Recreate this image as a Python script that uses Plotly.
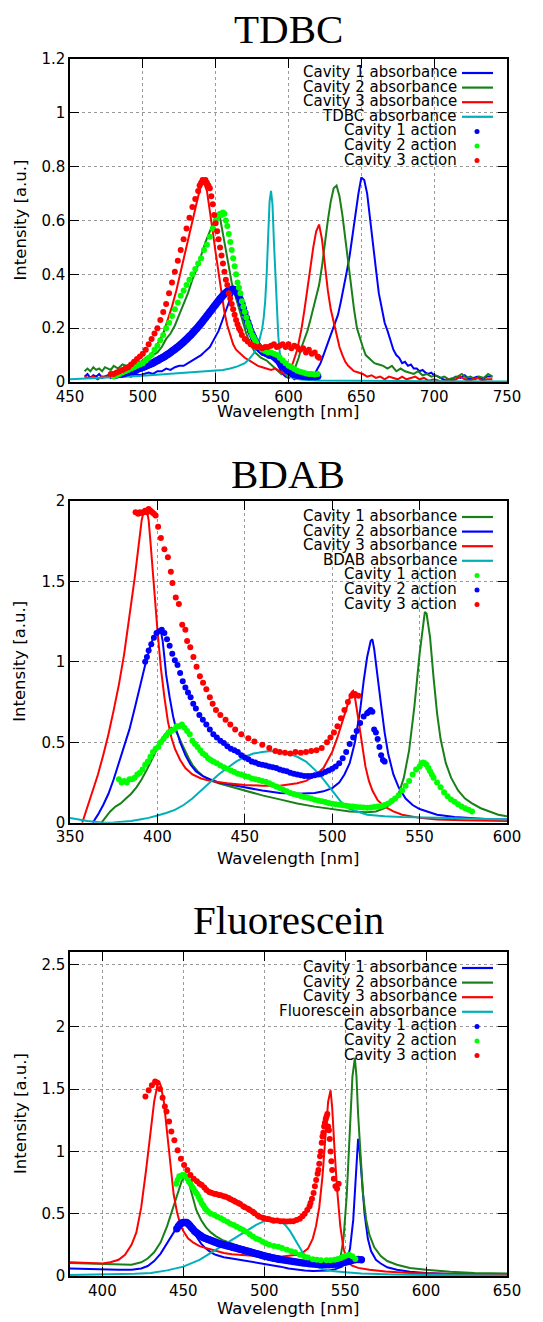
import plotly.graph_objects as go

W, H = 543, 1322

# ---------------- colours ----------------
BLUE = "#0000ff"
DGREEN = "#198019"
RED = "#ff0000"
CYAN = "#00b0b8"
LIME = "#00ff00"

# ================= TDBC =================
tdbc_cav1_abs = [(460,0.02),(462,0.03),(464,0.015),(466,0.025),(468,0.02),(470,0.03),(472,0.015),(474,0.02),(476,0.025),(478,0.015),(480,0.02),(483,0.03),(486,0.02),(489,0.025),(492,0.02),(495,0.03),(498,0.025),(501,0.03),(504,0.035),(507,0.03),(510,0.04),(513,0.04),(516,0.05),(519,0.045),(522,0.055),(525,0.06),(528,0.06),(531,0.07),(534,0.08),(537,0.09),(540,0.1),(542,0.11),(544,0.12),(546,0.13),(548,0.15),(550,0.17),(552,0.19),(554,0.22),(556,0.25),(558,0.28),(560,0.31),(562,0.33),(564,0.33),(566,0.3),(568,0.27),(570,0.24),(572,0.2),(574,0.17),(576,0.14),(578,0.12),(580,0.11),(582,0.1),(584,0.1),(586,0.09),(588,0.09),(590,0.08),(592,0.07),(594,0.05),(596,0.03),(598,0.02),(600,0.015),(602,0.02),(604,0.01),(606,0.015),(608,0.02),(610,0.02),(612,0.015),(614,0.02),(616,0.025),(618,0.03),(620,0.05),(622,0.07),(624,0.1),(626,0.13),(628,0.16),(630,0.19),(632,0.22),(634,0.25),(636,0.3),(638,0.35),(640,0.41),(642,0.47),(644,0.55),(646,0.63),(648,0.7),(650,0.76),(652,0.75),(654,0.7),(656,0.6),(658,0.5),(660,0.42),(662,0.33),(664,0.27),(666,0.22),(668,0.19),(670,0.15),(672,0.12),(674,0.1),(676,0.09),(678,0.07),(680,0.075),(682,0.06),(684,0.065),(686,0.05),(688,0.05),(690,0.04),(692,0.045),(694,0.035),(696,0.03),(698,0.035),(700,0.025),(703,0.02),(706,0.01),(709,0.005),(712,0.01),(715,0.02),(718,0.015),(721,0.025),(724,0.01),(727,0.015),(730,0.02),(733,0.01),(736,0.02),(740,0.02)]

tdbc_cav2_abs = [(460,0.04),(462,0.05),(464,0.04),(466,0.055),(468,0.045),(470,0.05),(472,0.04),(474,0.055),(476,0.05),(478,0.045),(480,0.06),(483,0.05),(486,0.065),(489,0.06),(492,0.07),(495,0.065),(498,0.075),(501,0.08),(504,0.09),(507,0.1),(510,0.11),(513,0.13),(516,0.16),(519,0.18),(522,0.21),(525,0.25),(528,0.29),(531,0.33),(534,0.38),(537,0.42),(540,0.47),(543,0.52),(546,0.56),(549,0.6),(551,0.62),(553,0.61),(555,0.55),(557,0.48),(559,0.42),(561,0.37),(563,0.33),(565,0.29),(567,0.25),(569,0.21),(571,0.18),(573,0.15),(575,0.13),(577,0.11),(579,0.1),(581,0.09),(583,0.085),(585,0.08),(587,0.07),(589,0.06),(591,0.05),(593,0.04),(595,0.03),(597,0.045),(599,0.02),(601,0.03),(603,0.04),(605,0.06),(607,0.09),(609,0.13),(611,0.16),(613,0.19),(615,0.23),(617,0.27),(619,0.31),(621,0.36),(623,0.43),(625,0.52),(627,0.6),(629,0.67),(631,0.72),(633,0.73),(635,0.69),(637,0.62),(639,0.53),(641,0.44),(643,0.35),(645,0.27),(647,0.2),(649,0.16),(651,0.13),(653,0.1),(655,0.09),(657,0.08),(659,0.07),(662,0.065),(665,0.06),(668,0.05),(671,0.06),(674,0.04),(677,0.05),(680,0.04),(683,0.035),(686,0.03),(689,0.04),(692,0.025),(695,0.03),(698,0.02),(701,0.025),(704,0.015),(707,0.02),(710,0.01),(713,0.015),(716,0.02),(719,0.03),(722,0.015),(725,0.02),(728,0.01),(731,0.02),(734,0.015),(737,0.03),(740,0.02)]

tdbc_cav3_abs = [(460,0.02),(463,0.015),(466,0.02),(469,0.01),(472,0.02),(475,0.02),(478,0.025),(481,0.03),(484,0.035),(487,0.04),(490,0.05),(493,0.055),(496,0.065),(499,0.075),(502,0.09),(505,0.1),(508,0.12),(511,0.15),(514,0.18),(517,0.23),(520,0.28),(523,0.34),(526,0.41),(529,0.48),(532,0.56),(535,0.63),(538,0.69),(540,0.73),(542,0.74),(544,0.71),(546,0.64),(548,0.56),(550,0.48),(552,0.4),(554,0.33),(556,0.26),(558,0.21),(560,0.17),(562,0.14),(564,0.12),(566,0.11),(568,0.1),(570,0.09),(573,0.08),(576,0.07),(579,0.06),(582,0.055),(585,0.05),(588,0.045),(591,0.05),(594,0.04),(597,0.03),(600,0.04),(603,0.07),(606,0.12),(609,0.2),(611,0.27),(613,0.35),(615,0.43),(617,0.5),(619,0.56),(621,0.585),(623,0.53),(625,0.43),(627,0.34),(629,0.27),(631,0.22),(633,0.17),(635,0.13),(637,0.1),(639,0.075),(641,0.06),(643,0.05),(645,0.04),(648,0.035),(651,0.03),(654,0.02),(657,0.025),(660,0.015),(663,0.02),(666,0.01),(669,0.02),(672,0.015),(675,0.01),(678,0.02),(681,0.01),(684,0.015),(687,0.02),(690,0.01),(693,0.015),(696,0.005),(700,0.01),(703,0.005),(706,0.0),(709,0.01),(712,0.005),(715,0.01),(718,0.02),(721,0.01),(724,0.005),(727,0.01),(730,0.015),(733,0.005),(736,0.01),(740,0.01)]

tdbc_dye_abs = [(450,0.01),(460,0.012),(470,0.015),(480,0.017),(490,0.02),(500,0.023),(510,0.027),(520,0.03),(530,0.034),(540,0.038),(550,0.042),(555,0.045),(560,0.05),(565,0.058),(570,0.07),(573,0.085),(576,0.105),(578,0.125),(580,0.155),(582,0.2),(583,0.24),(584,0.3),(585,0.4),(586,0.55),(587,0.67),(588,0.71),(589,0.66),(590,0.52),(591,0.38),(592,0.26),(593,0.17),(594,0.11),(596,0.06),(598,0.035),(600,0.022),(605,0.012),(610,0.008),(620,0.006),(650,0.004),(700,0.003),(750,0.002)]

tdbc_cav1_act = [(480,0.025),(481,0.026),(482,0.027),(483,0.028),(484,0.029),(485,0.03),(486,0.031),(487,0.032),(488,0.034),(489,0.035),(490,0.037),(491,0.038),(492,0.04),(493,0.041),(494,0.043),(495,0.045),(496,0.047),(497,0.049),(498,0.051),(499,0.053),(500,0.055),(501,0.057),(502,0.059),(503,0.061),(504,0.064),(505,0.066),(506,0.069),(507,0.071),(508,0.074),(509,0.077),(510,0.08),(511,0.083),(512,0.086),(513,0.089),(514,0.092),(515,0.095),(516,0.099),(517,0.102),(518,0.106),(519,0.11),(520,0.114),(521,0.118),(522,0.122),(523,0.126),(524,0.13),(525,0.135),(526,0.139),(527,0.144),(528,0.149),(529,0.154),(530,0.159),(531,0.164),(532,0.17),(533,0.175),(534,0.181),(535,0.187),(536,0.193),(537,0.199),(538,0.205),(539,0.212),(540,0.218),(541,0.225),(542,0.232),(543,0.239),(544,0.246),(545,0.253),(546,0.26),(547,0.267),(548,0.274),(549,0.281),(550,0.288),(551,0.295),(552,0.302),(553,0.309),(554,0.315),(555,0.321),(556,0.327),(557,0.332),(558,0.336),(559,0.34),(560,0.342),(561,0.344),(562,0.345),(563,0.343),(564,0.338),(565,0.33),(566,0.318),(567,0.305),(568,0.29),(569,0.273),(570,0.256),(571,0.238),(572,0.222),(573,0.206),(574,0.19),(575,0.177),(576,0.165),(577,0.153),(578,0.143),(579,0.134),(580,0.127),(581,0.121),(582,0.116),(583,0.112),(584,0.109),(585,0.106),(586,0.104),(587,0.102),(588,0.1),(589,0.098),(590,0.095),(591,0.092),(592,0.088),(593,0.083),(594,0.077),(595,0.07),(596,0.063),(597,0.056),(598,0.05),(599,0.045),(600,0.041),(601,0.037),(602,0.034),(603,0.031),(604,0.029),(605,0.027),(606,0.026),(607,0.025),(608,0.024),(609,0.023),(610,0.022),(612,0.021),(614,0.02),(616,0.02),(618,0.02),(620,0.021)]

tdbc_cav2_act = [(480,0.02),(482,0.025),(484,0.03),(486,0.035),(488,0.04),(490,0.045),(492,0.05),(494,0.055),(496,0.06),(498,0.065),(500,0.07),(502,0.08),(504,0.09),(506,0.1),(508,0.12),(510,0.135),(512,0.155),(514,0.175),(516,0.2),(518,0.22),(520,0.245),(522,0.27),(524,0.295),(526,0.32),(528,0.34),(530,0.36),(532,0.38),(534,0.4),(536,0.42),(538,0.44),(540,0.46),(542,0.49),(544,0.51),(546,0.54),(548,0.57),(550,0.6),(551,0.61),(552,0.62),(553,0.625),(554,0.62),(555,0.63),(556,0.625),(557,0.6),(558,0.58),(559,0.55),(560,0.52),(561,0.49),(562,0.46),(563,0.43),(564,0.4),(565,0.37),(566,0.35),(567,0.33),(568,0.3),(569,0.28),(570,0.26),(571,0.24),(572,0.22),(573,0.205),(574,0.19),(575,0.175),(576,0.165),(577,0.155),(578,0.145),(580,0.13),(582,0.12),(584,0.115),(586,0.11),(588,0.11),(590,0.105),(592,0.1),(594,0.09),(596,0.08),(598,0.07),(600,0.06),(602,0.055),(604,0.048),(606,0.042),(608,0.038),(610,0.035),(612,0.032),(614,0.03),(616,0.03),(618,0.028),(620,0.03)]

tdbc_cav3_act = [(478,0.03),(480,0.03),(482,0.035),(484,0.04),(486,0.045),(488,0.05),(490,0.055),(492,0.065),(494,0.075),(496,0.085),(498,0.095),(500,0.105),(502,0.12),(504,0.14),(506,0.16),(508,0.18),(510,0.2),(512,0.23),(514,0.26),(516,0.29),(518,0.33),(520,0.37),(522,0.41),(524,0.45),(526,0.49),(528,0.53),(530,0.57),(532,0.61),(534,0.65),(536,0.68),(538,0.71),(539,0.73),(540,0.74),(541,0.75),(542,0.745),(543,0.75),(544,0.74),(545,0.73),(546,0.72),(547,0.69),(548,0.66),(549,0.62),(550,0.59),(551,0.56),(552,0.53),(553,0.5),(554,0.47),(555,0.44),(556,0.41),(557,0.38),(558,0.36),(559,0.33),(560,0.31),(561,0.29),(562,0.27),(563,0.25),(564,0.23),(565,0.215),(566,0.2),(567,0.19),(568,0.175),(570,0.16),(572,0.15),(574,0.14),(576,0.135),(578,0.13),(580,0.13),(582,0.125),(584,0.13),(586,0.13),(588,0.135),(590,0.14),(592,0.13),(594,0.135),(596,0.14),(598,0.13),(600,0.14),(602,0.125),(604,0.135),(606,0.13),(608,0.12),(610,0.125),(612,0.11),(614,0.12),(616,0.105),(618,0.11),(620,0.095),(621,0.09)]

# ================= BDAB =================
bdab_cav1_abs = [(368,0.0),(370,0.03),(373,0.07),(376,0.1),(379,0.12),(382,0.15),(385,0.18),(388,0.22),(391,0.27),(394,0.33),(397,0.4),(400,0.47),(403,0.53),(406,0.57),(408,0.59),(410,0.58),(412,0.54),(414,0.49),(416,0.44),(418,0.4),(420,0.36),(423,0.32),(426,0.29),(430,0.265),(435,0.245),(440,0.23),(445,0.215),(450,0.2),(460,0.17),(470,0.145),(480,0.12),(490,0.1),(500,0.085),(510,0.07),(520,0.065),(525,0.07),(530,0.09),(535,0.13),(538,0.18),(541,0.28),(544,0.45),(547,0.72),(550,1.05),(552,1.25),(553,1.31),(554,1.3),(556,1.15),(558,0.9),(560,0.68),(562,0.52),(565,0.37),(568,0.28),(572,0.2),(576,0.15),(580,0.12),(585,0.09),(590,0.07),(595,0.05),(600,0.04)]

bdab_cav2_abs = [(363,0.0),(366,0.05),(369,0.11),(372,0.18),(375,0.27),(378,0.37),(381,0.47),(384,0.58),(387,0.71),(390,0.85),(393,0.98),(396,1.1),(398,1.16),(400,1.19),(401,1.2),(402,1.19),(403,1.13),(404,1.03),(405,0.92),(407,0.78),(409,0.66),(411,0.57),(413,0.5),(416,0.42),(419,0.36),(422,0.32),(426,0.29),(430,0.27),(435,0.25),(440,0.24),(450,0.22),(460,0.2),(470,0.185),(480,0.18),(490,0.185),(495,0.195),(500,0.215),(504,0.25),(507,0.3),(510,0.37),(513,0.5),(516,0.7),(518,0.88),(520,1.03),(522,1.13),(523,1.14),(524,1.08),(526,0.92),(528,0.73),(530,0.56),(532,0.43),(535,0.3),(538,0.22),(542,0.15),(546,0.11),(550,0.085),(555,0.065),(560,0.05),(570,0.035),(580,0.028),(590,0.022),(600,0.02)]

bdab_cav3_abs = [(357,0.0),(360,0.1),(363,0.2),(366,0.3),(369,0.42),(372,0.55),(375,0.7),(378,0.86),(381,1.05),(384,1.28),(387,1.52),(389,1.7),(391,1.88),(392,1.93),(393,1.95),(394,1.94),(395,1.88),(396,1.75),(397,1.6),(398,1.45),(399,1.32),(400,1.2),(401,1.08),(402,0.96),(404,0.78),(406,0.63),(408,0.53),(410,0.46),(413,0.39),(416,0.34),(420,0.3),(425,0.275),(430,0.26),(440,0.245),(450,0.235),(460,0.23),(470,0.23),(480,0.245),(485,0.26),(490,0.29),(495,0.34),(500,0.44),(503,0.53),(506,0.64),(509,0.75),(511,0.81),(512,0.82),(513,0.78),(515,0.64),(517,0.48),(519,0.35),(521,0.26),(523,0.2),(526,0.14),(530,0.1),(535,0.07),(540,0.05),(550,0.03),(560,0.02),(575,0.015),(600,0.01)]

bdab_dye_abs = [(350,0.03),(355,0.02),(360,0.01),(365,0.005),(370,0.0),(375,0.002),(380,0.005),(385,0.01),(390,0.02),(395,0.03),(400,0.045),(405,0.06),(410,0.08),(415,0.11),(420,0.15),(425,0.2),(430,0.25),(435,0.3),(440,0.34),(445,0.38),(450,0.41),(455,0.43),(460,0.44),(465,0.445),(470,0.44),(475,0.43),(480,0.41),(485,0.38),(490,0.33),(495,0.27),(500,0.2),(505,0.13),(510,0.085),(515,0.065),(520,0.05),(530,0.04),(540,0.035),(560,0.03),(580,0.025),(600,0.02)]

bdab_cav1_act = [(378,0.27),(379.5,0.25),(381,0.26),(382.5,0.25),(384,0.27),(385.5,0.27),(387,0.28),(388.5,0.3),(390,0.31),(391.5,0.33),(393,0.36),(394.5,0.38),(396,0.41),(397.5,0.44),(399,0.46),(400.5,0.47),(402,0.5),(403.5,0.52),(405,0.54),(406.5,0.56),(408,0.57),(409.5,0.58),(411,0.6),(412.5,0.6),(414,0.61),(415.5,0.59),(417,0.57),(418.5,0.55),(420,0.51),(421.5,0.49),(423,0.47),(424.5,0.45),(426,0.43),(427.5,0.42),(429,0.4),(430.5,0.39),(432,0.38),(434,0.37),(436,0.355),(438,0.345),(440,0.335),(442,0.325),(444,0.315),(446,0.305),(448,0.3),(450,0.29),(452,0.285),(454,0.275),(456,0.27),(458,0.265),(460,0.26),(462,0.255),(464,0.245),(466,0.235),(468,0.225),(470,0.215),(472,0.205),(474,0.195),(476,0.185),(478,0.178),(480,0.172),(482,0.166),(484,0.16),(486,0.155),(488,0.15),(490,0.143),(492,0.138),(494,0.133),(496,0.128),(498,0.123),(500,0.118),(502,0.115),(504,0.112),(506,0.109),(508,0.106),(510,0.103),(512,0.1),(514,0.098),(516,0.096),(518,0.094),(520,0.093),(522,0.095),(524,0.098),(526,0.1),(528,0.104),(530,0.11),(532,0.12),(534,0.135),(536,0.15),(538,0.17),(540,0.2),(542,0.23),(544,0.26),(546,0.3),(548,0.33),(550,0.35),(551,0.37),(552,0.375),(553,0.37),(554,0.36),(555,0.34),(556,0.32),(557,0.3),(558,0.28),(560,0.25),(562,0.22),(564,0.19),(566,0.165),(568,0.145),(570,0.13),(572,0.115),(574,0.1),(576,0.09),(578,0.08),(580,0.07)]

bdab_cav2_act = [(393,1.0),(394,1.03),(395,1.07),(396.5,1.11),(398,1.15),(399.5,1.18),(401,1.19),(402.5,1.2),(404,1.18),(405.5,1.14),(407,1.1),(408.5,1.05),(410,1.01),(411.5,0.98),(413,0.93),(414.5,0.88),(416,0.84),(417.5,0.81),(419,0.78),(420.5,0.74),(422,0.71),(424,0.67),(426,0.64),(428,0.61),(430,0.58),(432,0.55),(434,0.53),(436,0.51),(438,0.495),(440,0.475),(442,0.46),(444,0.45),(446,0.44),(448,0.42),(450,0.405),(452,0.395),(454,0.38),(456,0.375),(458,0.365),(460,0.36),(462,0.355),(464,0.35),(466,0.345),(468,0.34),(470,0.33),(472,0.325),(474,0.32),(476,0.31),(478,0.305),(480,0.3),(482,0.295),(484,0.29),(486,0.29),(488,0.29),(490,0.295),(492,0.3),(494,0.305),(496,0.315),(498,0.325),(500,0.335),(502,0.35),(504,0.37),(506,0.4),(508,0.44),(510,0.49),(512,0.53),(514,0.57),(516,0.62),(518,0.66),(520,0.68),(521,0.69),(522,0.7),(523,0.69),(524,0.58),(525,0.56),(526,0.52),(527,0.47),(528,0.42),(529,0.39),(530,0.38)]

bdab_cav3_act = [(387.5,1.93),(389,1.92),(390,1.93),(391,1.925),(392,1.93),(393,1.94),(394,1.93),(395,1.95),(396,1.94),(397,1.93),(398,1.92),(399,1.91),(400.4,1.84),(402,1.77),(404,1.7),(406,1.65),(407.7,1.56),(408.6,1.49),(410.5,1.4),(412.3,1.36),(414.2,1.23),(416,1.2),(417,1.13),(418.8,1.09),(420.6,1.03),(422.4,0.97),(424.3,0.91),(426.1,0.87),(428,0.83),(430,0.78),(431.6,0.74),(433.5,0.7),(436,0.67),(439,0.64),(441.7,0.61),(444.5,0.58),(448,0.55),(452,0.525),(455.5,0.505),(460,0.485),(464,0.465),(467.5,0.445),(470,0.44),(473,0.435),(476,0.43),(479,0.44),(482,0.435),(485,0.44),(488,0.445),(491,0.45),(494,0.465),(497,0.5),(499,0.53),(501,0.56),(503,0.6),(505,0.65),(507,0.7),(509,0.75),(511,0.79),(513,0.8),(515,0.79)]

# ================= Fluorescein =================
fl_cav1_abs = [(380,0.06),(390,0.055),(400,0.05),(410,0.05),(418,0.05),(424,0.06),(428,0.08),(432,0.12),(436,0.18),(440,0.26),(443,0.33),(446,0.39),(449,0.42),(451,0.425),(453,0.41),(455,0.38),(458,0.32),(461,0.26),(464,0.22),(467,0.19),(470,0.17),(475,0.15),(480,0.14),(485,0.13),(490,0.12),(495,0.11),(500,0.1),(505,0.09),(510,0.075),(515,0.06),(520,0.05),(525,0.045),(530,0.04),(535,0.04),(540,0.045),(544,0.055),(548,0.075),(551,0.12),(553,0.22),(555,0.45),(556.5,0.8),(558,1.1),(559,1.0),(560.5,0.75),(562,0.5),(564,0.3),(566,0.2),(569,0.13),(572,0.1),(576,0.07),(582,0.05),(590,0.035),(600,0.025),(620,0.015),(650,0.01)]

fl_cav2_abs = [(380,0.105),(390,0.1),(400,0.095),(410,0.09),(418,0.09),(424,0.11),(428,0.14),(432,0.19),(436,0.27),(440,0.4),(443,0.52),(446,0.65),(449,0.76),(451,0.8),(452,0.79),(454,0.72),(456,0.62),(458,0.53),(461,0.45),(464,0.39),(467,0.35),(470,0.32),(474,0.29),(478,0.27),(482,0.25),(486,0.23),(490,0.21),(494,0.19),(498,0.17),(502,0.155),(506,0.14),(510,0.125),(515,0.11),(520,0.1),(525,0.09),(530,0.085),(535,0.085),(540,0.09),(544,0.1),(547,0.14),(549,0.3),(551,0.65),(553,1.2),(554.5,1.6),(556,1.75),(557,1.6),(558,1.3),(559.5,0.95),(561,0.66),(563,0.45),(565,0.33),(568,0.23),(572,0.16),(576,0.12),(582,0.09),(590,0.065),(600,0.05),(615,0.035),(630,0.025),(650,0.02)]

fl_cav3_abs = [(380,0.11),(390,0.105),(400,0.1),(405,0.11),(410,0.13),(414,0.17),(418,0.25),(421,0.35),(424,0.55),(427,0.85),(430,1.2),(432,1.4),(434,1.53),(435,1.56),(436,1.53),(438,1.4),(440,1.15),(442,0.88),(444,0.66),(446,0.52),(448,0.42),(450,0.36),(453,0.3),(456,0.27),(460,0.24),(465,0.22),(470,0.2),(475,0.185),(480,0.175),(490,0.165),(500,0.155),(510,0.155),(515,0.16),(520,0.17),(524,0.19),(527,0.22),(530,0.3),(532,0.4),(534,0.55),(536,0.8),(538,1.15),(539.5,1.4),(541,1.49),(542,1.35),(543.5,1.0),(545,0.7),(547,0.4),(549,0.22),(551,0.13),(554,0.085),(558,0.065),(565,0.05),(575,0.037),(590,0.025),(610,0.018),(630,0.012),(650,0.01)]

fl_dye_abs = [(380,0.008),(400,0.01),(420,0.018),(430,0.025),(440,0.045),(450,0.075),(455,0.1),(460,0.13),(465,0.17),(470,0.21),(475,0.25),(480,0.29),(485,0.33),(490,0.37),(495,0.41),(500,0.44),(505,0.45),(510,0.44),(513,0.41),(516,0.36),(519,0.29),(522,0.22),(525,0.16),(528,0.11),(532,0.075),(536,0.055),(542,0.04),(550,0.03),(560,0.02),(580,0.012),(600,0.008),(650,0.005)]

fl_cav1_act = [(446,0.38),(447,0.4),(448,0.415),(449,0.425),(450,0.43),(451,0.43),(452,0.43),(453,0.42),(454,0.405),(455,0.39),(456,0.375),(457,0.36),(458,0.35),(459,0.34),(460,0.33),(461,0.32),(462,0.31),(463,0.305),(464,0.3),(465,0.295),(466,0.29),(467,0.285),(468,0.28),(469,0.275),(470,0.27),(471,0.265),(472,0.26),(473,0.257),(474,0.253),(475,0.25),(476,0.246),(477,0.243),(478,0.24),(479,0.236),(480,0.232),(481,0.229),(482,0.226),(483,0.222),(484,0.219),(485,0.215),(486,0.212),(487,0.208),(488,0.205),(489,0.201),(490,0.198),(491,0.194),(492,0.19),(493,0.187),(494,0.183),(495,0.179),(496,0.176),(497,0.172),(498,0.168),(499,0.165),(500,0.161),(501,0.158),(502,0.155),(503,0.152),(504,0.149),(505,0.146),(506,0.143),(507,0.14),(508,0.138),(509,0.135),(510,0.133),(512,0.128),(514,0.124),(516,0.12),(518,0.116),(520,0.112),(522,0.108),(524,0.105),(526,0.102),(528,0.099),(530,0.096),(532,0.094),(534,0.092),(536,0.091),(538,0.09),(540,0.09),(542,0.092),(544,0.095),(546,0.099),(548,0.104),(550,0.11),(552,0.117),(554,0.124),(556,0.13),(558,0.133),(560,0.13)]

fl_cav2_act = [(445.6,0.74),(446.5,0.77),(447.5,0.8),(448.5,0.8),(449.5,0.81),(450.5,0.81),(451.5,0.8),(452.5,0.78),(453.5,0.757),(454.5,0.74),(455.4,0.717),(456.4,0.7),(457.4,0.676),(458.4,0.66),(459.4,0.636),(460.4,0.61),(461.4,0.583),(462.4,0.565),(463.4,0.543),(464.3,0.53),(465.3,0.516),(467,0.5),(469.3,0.49),(471,0.475),(473.2,0.463),(475,0.45),(477.2,0.436),(479,0.42),(481.2,0.41),(483,0.395),(485.1,0.382),(487,0.37),(489,0.356),(491,0.335),(493,0.316),(495,0.3),(497,0.29),(499,0.275),(501,0.262),(503,0.25),(506,0.24),(508.7,0.235),(511,0.225),(514,0.21),(516.6,0.198),(519,0.19),(522,0.17),(524.6,0.158),(527,0.148),(530,0.135),(532.5,0.13),(535,0.127),(538.5,0.126),(541,0.127),(543.5,0.13),(545.5,0.137),(547.4,0.144),(549,0.155),(550.4,0.163),(552.4,0.17),(554.4,0.158),(556.3,0.136)]

fl_cav3_act = [(426.6,1.44),(428.6,1.49),(430.6,1.53),(432.6,1.56),(434,1.55),(435.6,1.5),(437.2,1.43),(438.6,1.36),(439.6,1.32),(441.2,1.24),(442.6,1.16),(444.5,1.09),(446.5,1.01),(448.5,0.94),(450.5,0.89),(452.5,0.85),(454.4,0.81),(456.4,0.78),(458.4,0.76),(460,0.74),(461.4,0.73),(463,0.71),(464.3,0.69),(466,0.675),(467.3,0.668),(469,0.66),(470.3,0.658),(472,0.65),(473.2,0.647),(475,0.64),(476.2,0.636),(478,0.625),(479.2,0.615),(481,0.605),(482.2,0.596),(484,0.585),(485.1,0.578),(487,0.56),(488.1,0.551),(490,0.54),(491.1,0.53),(493,0.515),(494,0.503),(496,0.485),(497,0.476),(499,0.468),(500,0.463),(502,0.458),(503,0.455),(505,0.448),(506,0.444),(508,0.446),(510,0.44),(512,0.44),(514,0.437),(516,0.44),(518,0.44),(520,0.45),(522,0.46),(523.6,0.48),(525,0.5),(526.6,0.53),(528,0.56),(528.6,0.585),(529.5,0.62),(530.5,0.666),(531.3,0.72),(532.1,0.77),(533,0.82),(533.5,0.85),(534,0.9),(534.5,0.96),(535,1.0),(535.5,1.07),(536,1.12),(536.5,1.15),(537,1.2),(537.5,1.23),(538,1.26),(538.5,1.28),(539,1.3),(539.5,1.2),(540,1.17),(540.5,1.1),(541,1.0),(541.5,0.92),(542,0.85),(543,0.78),(544,0.72),(545,0.7),(546,0.74)]

# ---------------- panel definitions ----------------
titles = ["TDBC", "BDAB", "Fluorescein"]
x_ranges = [[450, 750], [350, 600], [380, 650]]
y_ranges = [[0, 1.2], [0, 2.0], [0, 2.6]]
x_ticks = [[450, 500, 550, 600, 650, 700, 750], [350, 400, 450, 500, 550, 600], [400, 450, 500, 550, 600, 650]]
y_ticks = [[0, 0.2, 0.4, 0.6, 0.8, 1, 1.2], [0, 0.5, 1, 1.5, 2], [0, 0.5, 1, 1.5, 2, 2.5]]
y_ticktext = [["0", "0.2", "0.4", "0.6", "0.8", "1", "1.2"], ["0", "0.5", "1", "1.5", "2"], ["0", "0.5", "1", "1.5", "2", "2.5"]]

legend_labels = [
    ["Cavity 1 absorbance", "Cavity 2 absorbance", "Cavity 3 absorbance", "TDBC absorbance", "Cavity 1 action", "Cavity 2 action", "Cavity 3 action"],
    ["Cavity 1 absorbance", "Cavity 2 absorbance", "Cavity 3 absorbance", "BDAB absorbance", "Cavity 1 action", "Cavity 2 action", "Cavity 3 action"],
    ["Cavity 1 absorbance", "Cavity 2 absorbance", "Cavity 3 absorbance", "Fluorescein absorbance", "Cavity 1 action", "Cavity 2 action", "Cavity 3 action"],
]

panels = [
    dict(lines=[(tdbc_cav1_abs, BLUE), (tdbc_cav2_abs, DGREEN), (tdbc_cav3_abs, RED), (tdbc_dye_abs, CYAN)],
         dots=[(tdbc_cav1_act, BLUE, 7.5), (tdbc_cav2_act, LIME, 6), (tdbc_cav3_act, RED, 6)]),
    dict(lines=[(bdab_cav1_abs, DGREEN), (bdab_cav2_abs, BLUE), (bdab_cav3_abs, RED), (bdab_dye_abs, CYAN)],
         dots=[(bdab_cav1_act, LIME, 6), (bdab_cav2_act, BLUE, 6), (bdab_cav3_act, RED, 6)]),
    dict(lines=[(fl_cav1_abs, BLUE), (fl_cav2_abs, DGREEN), (fl_cav3_abs, RED), (fl_dye_abs, CYAN)],
         dots=[(fl_cav1_act, BLUE, 7.5), (fl_cav2_act, LIME, 6), (fl_cav3_act, RED, 6)]),
]

# pixel geometry of each plot frame (top, bottom) in px
frames = [(59, 382), (501, 822.7), (952, 1276)]
X_LEFT, X_RIGHT = 70, 507
title_y = [29, 474, 920]
xlabel_y = [412, 858, 1308]
legend_top = [72, 516, 967]
legend_box = [(325, 62, 505, 170), (330, 506, 505, 610), (310, 957, 505, 1062)]
ROW = 14.6
TEXT_RIGHT = 459

def px(x):
    return x / W

def py(y):
    return 1 - y / H

fig = go.Figure()
annotations = []
shapes = []

for i, p in enumerate(panels):
    xa = "x" if i == 0 else f"x{i+1}"
    ya = "y" if i == 0 else f"y{i+1}"
    for data, col in p["lines"]:
        fig.add_trace(go.Scatter(x=[d[0] for d in data], y=[d[1] for d in data], mode="lines",
                                 line=dict(color=col, width=2), xaxis=xa, yaxis=ya, showlegend=False,
                                 hoverinfo="skip"))
    for data, col, sz in p["dots"]:
        fig.add_trace(go.Scatter(x=[d[0] for d in data], y=[d[1] for d in data], mode="markers",
                                 marker=dict(color=col, size=sz, line=dict(width=0)), xaxis=xa, yaxis=ya,
                                 showlegend=False, hoverinfo="skip"))

    top, bot = frames[i]
    axis_common = dict(showline=True, linecolor="black", linewidth=1.5, mirror="allticks",
                       ticks="inside", ticklen=9, tickwidth=1.2, tickcolor="black",
                       showgrid=True, gridcolor="#9a9a9a", griddash="dot", gridwidth=1,
                       zeroline=False, tickfont=dict(family="DejaVu Sans", size=15, color="black"),
                       fixedrange=True, automargin=False)
    fig.update_layout(**{
        ("xaxis" if i == 0 else f"xaxis{i+1}"): dict(
            axis_common, domain=[px(X_LEFT), px(X_RIGHT)], range=x_ranges[i],
            tickvals=x_ticks[i], ticktext=[str(v) for v in x_ticks[i]], anchor=ya),
        ("yaxis" if i == 0 else f"yaxis{i+1}"): dict(
            axis_common, domain=[py(bot), py(top)], range=y_ranges[i],
            tickvals=y_ticks[i], ticktext=y_ticktext[i], anchor=xa),
    })

    # titles
    annotations.append(dict(text=titles[i], x=px(288), y=py(title_y[i]), xref="paper", yref="paper",
                            xanchor="center", yanchor="middle", showarrow=False,
                            font=dict(family="Liberation Serif", size=41, color="black")))
    annotations.append(dict(text="Wavelength [nm]", x=px(288), y=py(xlabel_y[i]), xref="paper", yref="paper",
                            xanchor="center", yanchor="middle", showarrow=False,
                            font=dict(family="DejaVu Sans", size=16.5, color="black")))
    annotations.append(dict(text="Intensity [a.u.]", x=px(20), y=py((top + bot) / 2), xref="paper", yref="paper",
                            xanchor="center", yanchor="middle", showarrow=False, textangle=-90,
                            font=dict(family="DejaVu Sans", size=16.5, color="black")))

    # legend (gnuplot style: text right-aligned, sample on the right)
    bx0, by0, bx1, by1 = legend_box[i]
    shapes.append(dict(type="rect", xref="paper", yref="paper", x0=px(bx0), x1=px(bx1), y0=py(by1), y1=py(by0),
                       fillcolor="white", line=dict(width=0), layer="between"))
    samples = [(c, "line") for _, c in p["lines"]] + [(c, "dot") for _, c, _ in p["dots"]]
    for k, lab in enumerate(legend_labels[i]):
        yy = legend_top[i] + k * ROW
        annotations.append(dict(text=lab, x=px(TEXT_RIGHT), y=py(yy), xref="paper", yref="paper",
                                xanchor="right", yanchor="middle", showarrow=False,
                                font=dict(family="DejaVu Sans", size=15, color="black")))
        col, kind = samples[k]
        if kind == "line":
            shapes.append(dict(type="line", xref="paper", yref="paper", x0=px(462), x1=px(493),
                               y0=py(yy + 1), y1=py(yy + 1), line=dict(color=col, width=2.2)))
        else:
            shapes.append(dict(type="circle", xref="paper", yref="paper", x0=px(474.5), x1=px(479.5),
                               y0=py(yy + 3.5), y1=py(yy - 1.5), fillcolor=col, line=dict(width=0)))

fig.update_layout(width=W, height=H, margin=dict(l=0, r=0, t=0, b=0),
                  paper_bgcolor="white", plot_bgcolor="white", showlegend=False,
                  annotations=annotations, shapes=shapes)

fig.write_html("out.html")
